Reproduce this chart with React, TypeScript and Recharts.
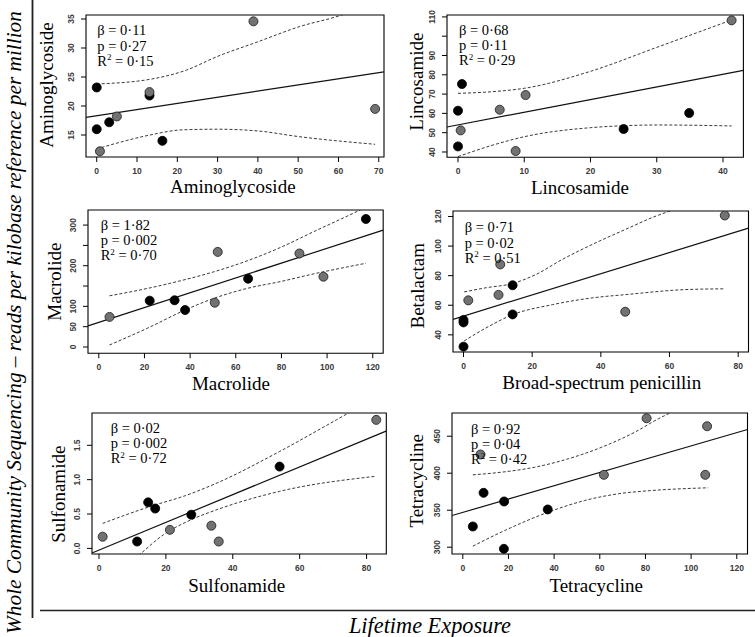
import React from 'react';
import { ComposedChart, Scatter, Line, XAxis, YAxis, ReferenceArea } from 'recharts';

const SERIF = '"Liberation Serif", "Times New Roman", serif';
const SANS = '"Liberation Sans", Arial, sans-serif';

// ---------- Aminoglycoside ----------
const aminoBlack = [{ x: 0, y: 23.2 }, { x: 0, y: 16.0 }, { x: 3.1, y: 17.2 }, { x: 13.1, y: 21.8 }, { x: 16.3, y: 14.0 }];
const aminoGray = [{ x: 0.8, y: 12.2 }, { x: 5.0, y: 18.2 }, { x: 13.1, y: 22.4 }, { x: 38.9, y: 34.6 }, { x: 69.1, y: 19.5 }];
const aminoFit = [{ x: -2.66, y: 18.05 }, { x: 71.3, y: 25.9 }];
const aminoUpper = [{ x: 0, y: 23.8 }, { x: 13.2, y: 24.6 }, { x: 22.3, y: 26.2 }, { x: 29.8, y: 28.5 }, { x: 40.1, y: 31.1 }, { x: 50.4, y: 33.7 }, { x: 60.4, y: 35.6 }, { x: 69.1, y: 38.0 }];
const aminoLower = [{ x: 0, y: 12.6 }, { x: 5, y: 13.6 }, { x: 13.2, y: 15.0 }, { x: 21.5, y: 15.9 }, { x: 30, y: 16.0 }, { x: 40, y: 15.7 }, { x: 50.4, y: 14.7 }, { x: 69.1, y: 13.4 }];
const aminoXTicks = [0, 10, 20, 30, 40, 50, 60, 70];
const aminoYTicks = [15, 20, 25, 30, 35];
const aminoYLabels = ['15', '20', '25', '30', '35'];
const aminoStats = ['0·11', '0·27', '0·15'];

// ---------- Lincosamide ----------
const lincoBlack = [{ x: 0.6, y: 75.2 }, { x: 0, y: 61.4 }, { x: 0, y: 42.9 }, { x: 25.0, y: 51.9 }, { x: 34.9, y: 60.2 }];
const lincoGray = [{ x: 0.4, y: 51.2 }, { x: 6.3, y: 61.9 }, { x: 8.7, y: 40.5 }, { x: 10.2, y: 69.5 }, { x: 41.3, y: 108.2 }];
const lincoFit = [{ x: -1.66, y: 52.95 }, { x: 43.08, y: 82.3 }];
const lincoUpper = [{ x: 0, y: 70.4 }, { x: 5, y: 71.2 }, { x: 10, y: 73.0 }, { x: 20, y: 81.8 }, { x: 30, y: 94.2 }, { x: 41.3, y: 108.4 }];
const lincoLower = [{ x: 0, y: 37.6 }, { x: 5, y: 43.3 }, { x: 10, y: 47.9 }, { x: 20, y: 52.6 }, { x: 25, y: 53.6 }, { x: 30, y: 54.0 }, { x: 41.3, y: 53.5 }];
const lincoXTicks = [0, 10, 20, 30, 40];
const lincoYTicks = [40, 50, 60, 70, 80, 90, 100, 110];
const lincoYLabels = ['40', '50', '60', '70', '80', '90', '', '110'];
const lincoStats = ['0·68', '0·11', '0·29'];

// ---------- Macrolide ----------
const macroBlack = [{ x: 22.3, y: 114 }, { x: 33.2, y: 115 }, { x: 37.8, y: 91 }, { x: 65.4, y: 168 }, { x: 117, y: 315 }];
const macroGray = [{ x: 4.7, y: 74 }, { x: 50.8, y: 109 }, { x: 52.1, y: 234 }, { x: 87.9, y: 230 }, { x: 98.4, y: 173 }];
const macroFit = [{ x: -4.73, y: 52 }, { x: 124.57, y: 287.7 }];
const macroUpper = [{ x: 4.7, y: 126 }, { x: 21.2, y: 144 }, { x: 35.8, y: 163 }, { x: 50.4, y: 185 }, { x: 65, y: 212 }, { x: 79.6, y: 245 }, { x: 94.2, y: 284 }, { x: 108.8, y: 322 }, { x: 117, y: 344 }];
const macroLower = [{ x: 4.7, y: 4.9 }, { x: 21.2, y: 46 }, { x: 37.8, y: 91 }, { x: 50.4, y: 119.7 }, { x: 65, y: 144.2 }, { x: 79.6, y: 161 }, { x: 94.2, y: 180 }, { x: 117, y: 206 }];
const macroXTicks = [0, 20, 40, 60, 80, 100, 120];
const macroYTicks = [0, 50, 100, 150, 200, 250, 300];
const macroYLabels = ['0', '50', '100', '', '200', '', '300'];
const macroStats = ['1·82', '0·002', '0·70'];

// ---------- Betalactam ----------
const betaBlack = [{ x: 0, y: 32 }, { x: 0, y: 48.4 }, { x: 0, y: 50 }, { x: 14.3, y: 73.5 }, { x: 14.3, y: 53.8 }];
const betaGray = [{ x: 1.4, y: 63.3 }, { x: 10.2, y: 67 }, { x: 10.7, y: 87.6 }, { x: 47.1, y: 55.6 }, { x: 76.1, y: 120.7 }];
const betaFit = [{ x: -3.06, y: 50.5 }, { x: 83.0, y: 112.1 }];
const betaUpper = [{ x: 0.2, y: 69.0 }, { x: 6.5, y: 71.8 }, { x: 14.3, y: 74.7 }, { x: 21.1, y: 80.8 }, { x: 28.8, y: 91.0 }, { x: 37.6, y: 101.2 }, { x: 47.3, y: 111.4 }, { x: 55.1, y: 119.4 }, { x: 60.9, y: 124.4 }, { x: 76.1, y: 140 }];
const betaLower = [{ x: 0.2, y: 35.9 }, { x: 6.5, y: 44.6 }, { x: 14.3, y: 53.6 }, { x: 25.9, y: 60.4 }, { x: 37.6, y: 65.0 }, { x: 47.3, y: 67.2 }, { x: 64.8, y: 70.6 }, { x: 75.9, y: 71.1 }];
const betaXTicks = [0, 20, 40, 60, 80];
const betaYTicks = [40, 60, 80, 100, 120];
const betaYLabels = ['40', '60', '80', '100', '120'];
const betaStats = ['0·71', '0·02', '0·51'];

// ---------- Sulfonamide ----------
const sulfaBlack = [{ x: 11.4, y: 0.10 }, { x: 14.7, y: 0.67 }, { x: 16.8, y: 0.58 }, { x: 27.6, y: 0.49 }, { x: 54.0, y: 1.19 }];
const sulfaGray = [{ x: 1.1, y: 0.17 }, { x: 21.2, y: 0.27 }, { x: 33.6, y: 0.33 }, { x: 35.8, y: 0.10 }, { x: 82.9, y: 1.87 }];
const sulfaFit = [{ x: -2.09, y: -0.067 }, { x: 86, y: 1.71 }];
const sulfaUpper = [{ x: 1.1, y: 0.364 }, { x: 15.3, y: 0.61 }, { x: 25.8, y: 0.767 }, { x: 35.3, y: 0.952 }, { x: 54, y: 1.41 }, { x: 71.1, y: 1.874 }, { x: 82.9, y: 2.2 }];
const sulfaLower = [{ x: 1.1, y: -0.5 }, { x: 12.1, y: -0.09 }, { x: 19.3, y: 0.2 }, { x: 27.6, y: 0.418 }, { x: 35.3, y: 0.564 }, { x: 54, y: 0.83 }, { x: 82.9, y: 1.05 }];
const sulfaXTicks = [0, 20, 40, 60, 80];
const sulfaYTicks = [0, 0.5, 1.0, 1.5];
const sulfaYLabels = ['0.0', '0.5', '1.0', '1.5'];
const sulfaStats = ['0·02', '0·002', '0·72'];

// ---------- Tetracycline ----------
const tetraBlack = [{ x: 4.4, y: 328 }, { x: 9.1, y: 373.5 }, { x: 18.1, y: 361.8 }, { x: 18.0, y: 297.8 }, { x: 37.2, y: 351 }];
const tetraGray = [{ x: 7.75, y: 425.3 }, { x: 61.8, y: 397.8 }, { x: 80.5, y: 474.3 }, { x: 107, y: 463.5 }, { x: 106.2, y: 397.8 }];
const tetraFit = [{ x: -4.73, y: 342.8 }, { x: 124.7, y: 459.1 }];
const tetraUpper = [{ x: 4.4, y: 397.8 }, { x: 17, y: 401.4 }, { x: 31.5, y: 408.1 }, { x: 46.2, y: 419.5 }, { x: 60.8, y: 435.1 }, { x: 75.3, y: 455.4 }, { x: 85.6, y: 473.5 }, { x: 91.4, y: 482.4 }, { x: 107, y: 510 }];
const tetraLower = [{ x: 4.4, y: 301.4 }, { x: 18.4, y: 322.6 }, { x: 37.4, y: 347.3 }, { x: 53.4, y: 363.1 }, { x: 68.1, y: 372.2 }, { x: 82.7, y: 376.6 }, { x: 107.5, y: 380.3 }];
const tetraXTicks = [0, 20, 40, 60, 80, 100, 120];
const tetraYTicks = [300, 350, 400, 450];
const tetraYLabels = ['300', '350', '400', '450'];
const tetraStats = ['0·92', '0·04', '0·42'];

const panels = [
  { key: 'amino', xTitle: 'Aminoglycoside', yTitle: 'Aminoglycoside', black: aminoBlack, gray: aminoGray, fit: aminoFit, upper: aminoUpper, lower: aminoLower, xTicks: aminoXTicks, yTicks: aminoYTicks, yLabels: aminoYLabels, stats: aminoStats,
    xDomain: [-2.66, 71.3], yDomain: [11.21, 35.69], box: [86, 15, 384, 157], xT: [232.8, 193.2], yT: [53.3, 85], ann: [97.3, 35.2] },
  { key: 'linco', xTitle: 'Lincosamide', yTitle: 'Lincosamide', black: lincoBlack, gray: lincoGray, fit: lincoFit, upper: lincoUpper, lower: lincoLower, xTicks: lincoXTicks, yTicks: lincoYTicks, yLabels: lincoYLabels, stats: lincoStats,
    xDomain: [-1.66, 43.08], yDomain: [37.25, 110.98], box: [447.3, 15, 743.7, 157.3], xT: [580, 193.5], yT: [422.7, 81.7], ann: [459, 34.5] },
  { key: 'macro', xTitle: 'Macrolide', yTitle: 'Macrolide', black: macroBlack, gray: macroGray, fit: macroFit, upper: macroUpper, lower: macroLower, xTicks: macroXTicks, yTicks: macroYTicks, yLabels: macroYLabels, stats: macroStats,
    xDomain: [-4.73, 124.57], yDomain: [-15.5, 337.1], box: [87.5, 210, 382.7, 353.3], xT: [231, 389.5], yT: [60.7, 281.7], ann: [100.7, 229.5] },
  { key: 'beta', xTitle: 'Broad-spectrum penicillin', yTitle: 'Betalactam', black: betaBlack, gray: betaGray, fit: betaFit, upper: betaUpper, lower: betaLower, xTicks: betaXTicks, yTicks: betaYTicks, yLabels: betaYLabels, stats: betaStats,
    xDomain: [-3.06, 83.0], yDomain: [28.4, 123.7], box: [452.5, 211, 748, 352], xT: [601.7, 388.5], yT: [424.3, 285.8], ann: [464.7, 232.2] },
  { key: 'sulfa', xTitle: 'Sulfonamide', yTitle: 'Sulfonamide', black: sulfaBlack, gray: sulfaGray, fit: sulfaFit, upper: sulfaUpper, lower: sulfaLower, xTicks: sulfaXTicks, yTicks: sulfaYTicks, yLabels: sulfaYLabels, stats: sulfaStats,
    xDomain: [-2.09, 85.9], yDomain: [-0.0816, 1.970], box: [91.7, 413.3, 386, 554.3], xT: [236.7, 592], yT: [65, 494.2], ann: [110.7, 432.8] },
  { key: 'tetra', xTitle: 'Tetracycline', yTitle: 'Tetracycline', black: tetraBlack, gray: tetraGray, fit: tetraFit, upper: tetraUpper, lower: tetraLower, xTicks: tetraXTicks, yTicks: tetraYTicks, yLabels: tetraYLabels, stats: tetraStats,
    xDomain: [-4.73, 124.7], yDomain: [290.8, 481.4], box: [451.5, 412.5, 747, 553.5], xT: [596.2, 591.5], yT: [423.3, 480.8], ann: [471, 433.5] },
];

const tickStyle = { fontSize: 8.5, fontFamily: SANS, fontWeight: 700, fill: '#3a3a3a' } as const;

function makeXTick() {
  return (props: any) => {
    const { x, y, payload } = props;
    return (
      <text x={x} y={y} dy={12.2} textAnchor="middle" {...tickStyle}>{String(payload.value)}</text>
    );
  };
}

function makeYTick(ticks: number[], labels: string[]) {
  return (props: any) => {
    const { x, y, payload } = props;
    const idx = ticks.indexOf(payload.value);
    const label = idx >= 0 ? labels[idx] : '';
    const cx = x - 9.5;
    return (
      <text x={cx} y={y} textAnchor="middle" dominantBaseline="central" transform={`rotate(-90, ${cx}, ${y})`} {...tickStyle}>{label}</text>
    );
  };
}

function Panel(p: any) {
  const [x0, y0, x1, y1] = p.box;
  const w = x1 - x0 + 65;
  const h = y1 - y0 + 50;
  return (
    <div style={{ position: 'absolute', left: x0 - 60, top: y0 - 5 }}>
      <ComposedChart width={w} height={h} margin={{ top: 5, right: 5, left: 0, bottom: 0 }}>
        <XAxis type="number" dataKey="x" domain={p.xDomain} allowDataOverflow ticks={p.xTicks} interval={0}
          tickSize={5} tickMargin={0} axisLine={false} tickLine={{ stroke: '#000', strokeWidth: 1 }} height={45} tick={makeXTick()} />
        <YAxis type="number" dataKey="y" domain={p.yDomain} allowDataOverflow ticks={p.yTicks} interval={0}
          tickSize={5} tickMargin={0} axisLine={false} tickLine={{ stroke: '#000', strokeWidth: 1 }} width={60} tick={makeYTick(p.yTicks, p.yLabels)} />
        <ReferenceArea x1={p.xDomain[0]} x2={p.xDomain[1]} y1={p.yDomain[0]} y2={p.yDomain[1]} fill="none" fillOpacity={0} stroke="#000" strokeWidth={1.1} strokeOpacity={1} ifOverflow="visible" />
        <Scatter data={p.black} fill="#000" stroke="#000" strokeWidth={0.8} isAnimationActive={false} />
        <Scatter data={p.gray} fill="#727272" stroke="#1a1a1a" strokeWidth={0.8} isAnimationActive={false} />
        <Line data={p.fit} dataKey="y" type="linear" stroke="#111" strokeWidth={1.2} dot={false} activeDot={false} isAnimationActive={false} />
        <Line data={p.upper} dataKey="y" type="monotone" stroke="#222" strokeWidth={0.9} strokeDasharray="3 2" dot={false} activeDot={false} isAnimationActive={false} />
        <Line data={p.lower} dataKey="y" type="monotone" stroke="#222" strokeWidth={0.9} strokeDasharray="3 2" dot={false} activeDot={false} isAnimationActive={false} />
      </ComposedChart>
    </div>
  );
}

function PanelTexts({ p }: { p: any }) {
  const [ax, ay] = p.ann;
  const lh = 15.3;
  const annStyle = { fontFamily: SERIF, fontSize: 14.5, fill: '#000' };
  return (
    <g>
      <text x={p.xT[0]} y={p.xT[1]} textAnchor="middle" fontFamily={SERIF} fontSize={19} fill="#000">{p.xTitle}</text>
      <text transform={`translate(${p.yT[0]}, ${p.yT[1]}) rotate(-90)`} textAnchor="middle" fontFamily={SERIF} fontSize={19} fill="#000">{p.yTitle}</text>
      <text x={ax} y={ay} {...annStyle}>{'β = ' + p.stats[0]}</text>
      <text x={ax} y={ay + lh} {...annStyle}>{'p = ' + p.stats[1]}</text>
      <text x={ax} y={ay + 2 * lh} {...annStyle}>
        <tspan>R</tspan>
        <tspan dy={-5.5} fontSize={9}>2</tspan>
        <tspan dy={5.5}>{' = ' + p.stats[2]}</tspan>
      </text>
    </g>
  );
}

export default function App() {
  return (
    <div style={{ position: 'absolute', left: 0, top: 0, width: 755, height: 637, background: '#fff', overflow: 'hidden' }}>
      {panels.map((p) => <Panel key={p.key} {...p} />)}
      <svg width={755} height={637} style={{ position: 'absolute', left: 0, top: 0, pointerEvents: 'none' }}>
        <line x1={32.5} y1={0} x2={32.5} y2={618} stroke="#222" strokeWidth={1.8} />
        <line x1={40} y1={610.5} x2={755} y2={610.5} stroke="#222" strokeWidth={1.7} />
        <text transform="translate(20.7, 322.5) rotate(-90)" textAnchor="middle" fontFamily={SERIF} fontStyle="italic" fontSize={21.3} fill="#000">
          Whole Community Sequencing – reads per kilobase reference per million
        </text>
        <text x={430} y={633.3} textAnchor="middle" fontFamily={SERIF} fontStyle="italic" fontSize={22.3} fill="#000">Lifetime Exposure</text>
        {panels.map((p) => <PanelTexts key={p.key} p={p} />)}
      </svg>
    </div>
  );
}
